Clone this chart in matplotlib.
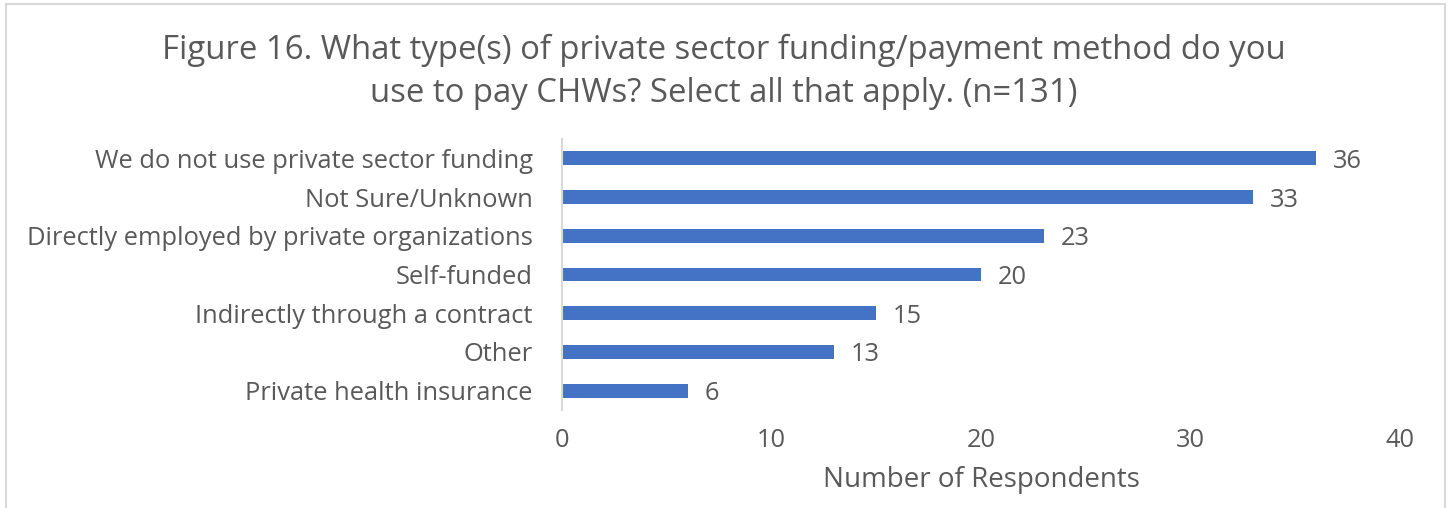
import matplotlib.pyplot as plt
from matplotlib.patches import Rectangle

categories = ["We do not use private sector funding", "Not Sure/Unknown",
              "Directly employed by private organizations", "Self-funded",
              "Indirectly through a contract", "Other", "Private health insurance"]
values = [36, 33, 23, 20, 15, 13, 6]
xticks = [0, 10, 20, 30, 40]

title = "Figure 16. What type(s) of private sector funding/payment method do you\nuse to pay CHWs? Select all that apply. (n=131)"
xlabel = "Number of Respondents"

plt.rcParams['font.family'] = ['Open Sans', 'DejaVu Sans']
txt = '#595959'

W, H = 1448, 508
fig = plt.figure(figsize=(W/100, H/100), dpi=100)
ax = fig.add_axes([562/W, 1-410/H, (1400-562)/W, (410-139)/H])

ypos = list(range(len(categories)))
ax.barh(ypos, values, height=0.36, color='#4472C4')
ax.set_ylim(len(categories)-0.5, -0.5)
ax.set_xlim(0, 40)
ax.set_yticks(ypos)
ax.set_yticklabels(categories, fontsize=18.4, color=txt)
ax.set_xticks(xticks)
ax.set_xticklabels([str(t) for t in xticks], fontsize=18.3, color=txt)
ax.tick_params(axis='both', length=0)
ax.tick_params(axis='y', pad=21)
ax.tick_params(axis='x', pad=13)
for s in ['top', 'right', 'bottom']:
    ax.spines[s].set_visible(False)
ax.spines['left'].set_color('#D9D9D9')
ax.spines['left'].set_linewidth(1.5)

for y, v in zip(ypos, values):
    ax.annotate(str(v), (v, y), xytext=(12, 0), textcoords='offset points',
                ha='left', va='center_baseline', fontsize=18.3, color=txt)

ax.set_xlabel(xlabel, fontsize=20, color=txt, labelpad=9)
fig.text(0.5, 1-72/H, title, ha='center', va='center', fontsize=23.7,
         color=txt, linespacing=1.43)

fig.patches.append(Rectangle((6/W, -0.1), (1445-6)/W, 1.1-4/H,
                             transform=fig.transFigure, fill=False,
                             edgecolor='#D9D9D9', linewidth=1.5))

fig.savefig('out.png', dpi=100)
